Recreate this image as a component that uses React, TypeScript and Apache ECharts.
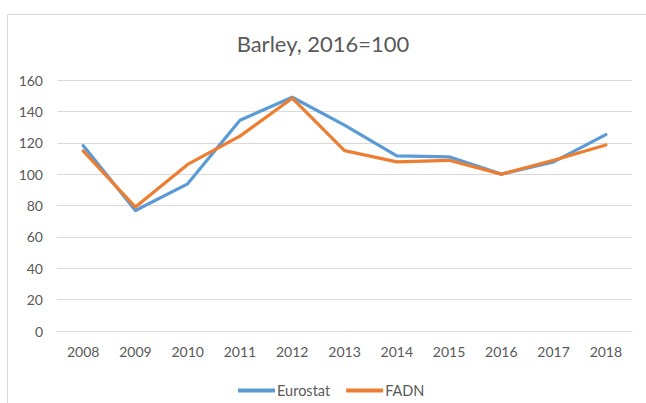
import React, { useEffect, useRef } from "react";
import * as echarts from "echarts";

const years = ["2008", "2009", "2010", "2011", "2012", "2013", "2014", "2015", "2016", "2017", "2018"];
const eurostat = [118.2, 76.8, 93.8, 134.4, 149, 131.2, 111.6, 111, 100, 107.8, 125.2];
const fadn = [114.8, 79, 106.2, 124.2, 148.4, 115, 107.8, 108.8, 100, 108.8, 118.6];
const yTicks = { min: 0, max: 160, interval: 20 };

const FONT = "Lato, 'Open Sans', sans-serif";
const TXT = "#595959";

export default function App() {
  const ref = useRef<HTMLDivElement>(null);
  useEffect(() => {
    document.body.style.margin = "0";
    const chart = echarts.init(ref.current!, null, { renderer: "svg" });
    chart.setOption({
      animation: false,
      backgroundColor: "#ffffff",
      graphic: [
        {
          type: "rect",
          shape: { x: 7.5, y: 14.5, width: 700, height: 500 },
          style: { fill: "none", stroke: "#d9d9d9", lineWidth: 1 },
          silent: true,
        },
      ],
      title: {
        text: "Barley, 2016=100",
        left: "center",
        top: 27,
        textStyle: { fontFamily: FONT, fontSize: 22, fontWeight: "normal", color: TXT },
      },
      grid: { left: 57, right: 14, top: 80, bottom: 72, containLabel: false },
      legend: {
        top: 378,
        left: 233,
        icon: "rect",
        itemWidth: 37,
        itemHeight: 4,
        itemGap: 16,
        textStyle: { fontFamily: FONT, fontSize: 14.5, color: TXT, padding: [0, 0, 0, -3] },
        data: ["Eurostat", "FADN"],
      },
      xAxis: {
        type: "category",
        data: years,
        boundaryGap: true,
        axisLine: { show: true, lineStyle: { color: "#d9d9d9", width: 1 } },
        axisTick: { show: false },
        axisLabel: { fontFamily: FONT, fontSize: 14, color: TXT, margin: 13 },
      },
      yAxis: {
        type: "value",
        min: yTicks.min,
        max: yTicks.max,
        interval: yTicks.interval,
        axisLine: { show: false },
        axisTick: { show: false },
        splitLine: { lineStyle: { color: "#d9d9d9", width: 1 } },
        axisLabel: { fontFamily: FONT, fontSize: 14, color: TXT, margin: 14 },
      },
      series: [
        {
          name: "Eurostat",
          type: "line",
          data: eurostat,
          symbol: "none",
          lineStyle: { color: "#5B9BD5", width: 3.2, cap: "round", join: "round" },
          itemStyle: { color: "#5B9BD5" },
        },
        {
          name: "FADN",
          type: "line",
          data: fadn,
          symbol: "none",
          lineStyle: { color: "#ED7D31", width: 3.2, cap: "round", join: "round" },
          itemStyle: { color: "#ED7D31" },
        },
      ],
    });
    return () => chart.dispose();
  }, []);
  return (
    <div
      ref={ref}
      style={{ position: "fixed", left: 0, top: 0, width: 646, height: 403 }}
    />
  );
}
